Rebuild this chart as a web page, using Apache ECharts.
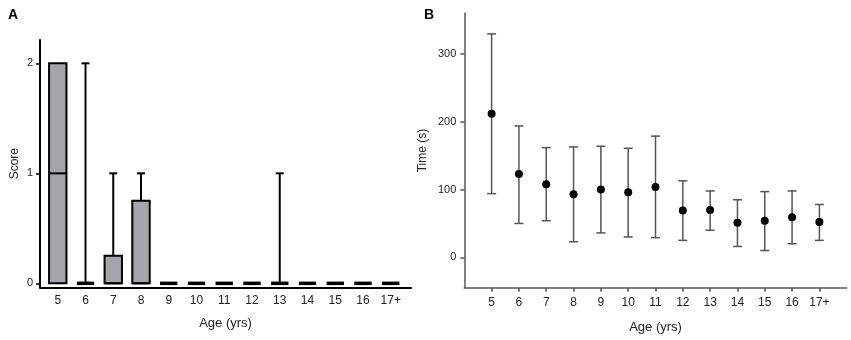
<!DOCTYPE html>
<html>
<head>
<meta charset="utf-8">
<script src="https://cdn.jsdelivr.net/npm/echarts@6/dist/echarts.min.js"></script>
<style>
  html, body { margin: 0; padding: 0; background: #fff; }
  #main { width: 851px; height: 340px; }
</style>
</head>
<body>
<div id="main"></div>
<script>
// age groups (shared by both panels)
var ages = ['5', '6', '7', '8', '9', '10', '11', '12', '13', '14', '15', '16', '17+'];

// panel A: score quartiles per age group
var scoreQ1 = [0, 0, 0, 0, 0, 0, 0, 0, 0, 0, 0, 0, 0];
var scoreMedian = [1, 0, 0, 0, 0, 0, 0, 0, 0, 0, 0, 0, 0];
var scoreQ3 = [2, 0, 0.25, 0.75, 0, 0, 0, 0, 0, 0, 0, 0, 0];
var scoreMax = [2, 2, 1, 1, 0, 0, 0, 0, 1, 0, 0, 0, 0];
var scoreTicks = [0, 1, 2];

// panel B: time mean and error range
var timeMean = [212, 123, 108, 93, 100, 96, 104, 69, 70, 51, 54, 59, 52];
var timeLow = [94, 50, 54, 23, 36, 30, 29, 25, 40, 16, 10, 20, 25];
var timeHigh = [330, 194, 162, 163, 164, 161, 179, 113, 98, 85, 97, 98, 78];
var timeTicks = [0, 100, 200, 300];

var chart = echarts.init(document.getElementById('main'));

var idx = ages.map(function (a, i) { return i; });
var font = 'Liberation Sans, Arial, sans-serif';

var boxData = ages.map(function (a, i) {
    return [i, scoreQ1[i], scoreMedian[i], scoreQ3[i], scoreMax[i]];
});
var errData = ages.map(function (a, i) {
    return [i, timeLow[i], timeHigh[i]];
});
var meanData = ages.map(function (a, i) {
    return [i, timeMean[i]];
});

// box with a one-sided whisker and a short cap
function renderBox(params, api) {
    var x = api.value(0);
    var q1 = api.coord([x, api.value(1)]);
    var med = api.coord([x, api.value(2)]);
    var q3 = api.coord([x, api.value(3)]);
    var top = api.coord([x, api.value(4)]);
    var hw = 8.7, cap = 4;
    var kids = [];
    if (api.value(4) > api.value(3)) {
        kids.push({
            type: 'line',
            shape: { x1: q3[0], y1: q3[1], x2: top[0], y2: top[1] },
            style: { stroke: '#000', lineWidth: 2 }
        });
        kids.push({
            type: 'line',
            shape: { x1: top[0] - cap, y1: top[1], x2: top[0] + cap, y2: top[1] },
            style: { stroke: '#000', lineWidth: 2 }
        });
    }
    var flat = api.value(3) === api.value(1);
    if (!flat) {
        kids.push({
            type: 'rect',
            shape: { x: q1[0] - hw, y: q3[1], width: hw * 2, height: q1[1] - q3[1] },
            style: { fill: '#a5a4aa', stroke: '#000', lineWidth: 2 }
        });
    }
    kids.push({
        type: 'line',
        shape: { x1: med[0] - hw, y1: med[1], x2: med[0] + hw, y2: med[1] },
        style: { stroke: '#000', lineWidth: flat ? 3.5 : 2 }
    });
    return { type: 'group', children: kids };
}

// vertical error bar with caps
function renderErr(params, api) {
    var x = api.value(0);
    var lo = api.coord([x, api.value(1)]);
    var hi = api.coord([x, api.value(2)]);
    var cap = 4.5;
    var st = { stroke: '#555', lineWidth: 1.5 };
    return {
        type: 'group',
        children: [
            { type: 'line', shape: { x1: lo[0], y1: lo[1], x2: hi[0], y2: hi[1] }, style: st },
            { type: 'line', shape: { x1: hi[0] - cap, y1: hi[1], x2: hi[0] + cap, y2: hi[1] }, style: st },
            { type: 'line', shape: { x1: lo[0] - cap, y1: lo[1], x2: lo[0] + cap, y2: lo[1] }, style: st }
        ]
    };
}

var option = {
    animation: false,
    textStyle: { fontFamily: font },
    title: [
        { text: 'A', left: 3, top: 3, textStyle: { fontSize: 14, fontWeight: 'bold', color: '#000', fontFamily: font } },
        { text: 'B', left: 419, top: 3, textStyle: { fontSize: 14, fontWeight: 'bold', color: '#000', fontFamily: font } }
    ],
    grid: [
        { left: 40, right: 440, top: 40, bottom: 52.7 },
        { left: 464.3, right: 4.3, top: 13.3, bottom: 52.3 }
    ],
    xAxis: [
        {
            type: 'value', gridIndex: 0, min: -0.64, max: 12.73,
            name: 'Age (yrs)', nameLocation: 'middle', nameGap: 30,
            nameTextStyle: { fontSize: 13, color: '#222' },
            splitLine: { show: false },
            axisLine: { onZero: false, lineStyle: { color: '#000', width: 2 } },
            axisTick: { show: false },
            axisLabel: {
                customValues: idx, margin: 7, fontSize: 12, color: '#222',
                formatter: function (v) { return ages[Math.round(v)]; }
            }
        },
        {
            type: 'value', gridIndex: 1, min: -1, max: 13,
            name: 'Age (yrs)', nameLocation: 'middle', nameGap: 33,
            nameTextStyle: { fontSize: 13, color: '#222' },
            splitLine: { show: false },
            axisLine: { onZero: false, lineStyle: { color: '#555', width: 1.5 } },
            axisTick: { customValues: idx, length: 4, lineStyle: { color: '#555', width: 1.5 } },
            axisLabel: {
                customValues: idx, margin: 9, fontSize: 12, color: '#222',
                formatter: function (v) { return ages[Math.round(v)]; }
            }
        }
    ],
    yAxis: [
        {
            type: 'value', gridIndex: 0, min: -0.036, max: 2.212,
            name: 'Score', nameLocation: 'middle', nameGap: 19,
            nameTextStyle: { fontSize: 12, color: '#222' },
            splitLine: { show: false },
            axisLine: { onZero: false, lineStyle: { color: '#000', width: 2 } },
            axisTick: { customValues: scoreTicks, length: 4, lineStyle: { color: '#000', width: 1.5 } },
            axisLabel: { customValues: scoreTicks, margin: 7, fontSize: 11, color: '#222' }
        },
        {
            type: 'value', gridIndex: 1, min: -44.9, max: 360.4,
            name: 'Time (s)', nameLocation: 'middle', nameGap: 36,
            nameTextStyle: { fontSize: 12, color: '#222' },
            splitLine: { show: false },
            axisLine: { onZero: false, lineStyle: { color: '#555', width: 1.5 } },
            axisTick: { customValues: timeTicks, length: 4, lineStyle: { color: '#555', width: 1.5 } },
            axisLabel: { customValues: timeTicks, margin: 8, fontSize: 11, color: '#222' }
        }
    ],
    series: [
        {
            type: 'custom', xAxisIndex: 0, yAxisIndex: 0,
            renderItem: renderBox, data: boxData, clip: false
        },
        {
            type: 'custom', xAxisIndex: 1, yAxisIndex: 1,
            renderItem: renderErr, data: errData, clip: false
        },
        {
            type: 'scatter', xAxisIndex: 1, yAxisIndex: 1,
            symbolSize: 8, itemStyle: { color: '#000', opacity: 1 },
            data: meanData
        }
    ]
};

chart.setOption(option);
</script>
</body>
</html>
